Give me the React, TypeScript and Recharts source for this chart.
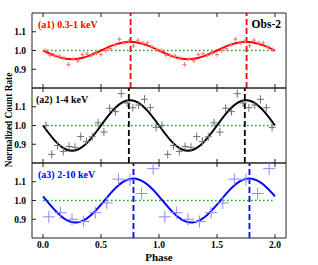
import React from 'react';
import { ComposedChart, Line, Scatter, XAxis, YAxis, ReferenceLine } from 'recharts';

// folded light curves, two cycles shown
const phase1 = [
  0.02, 0.06, 0.1, 0.14, 0.18, 0.22, 0.26, 0.3, 0.34, 0.38, 0.42, 0.46, 0.5, 0.54, 0.58, 0.62, 0.66, 0.7, 0.74, 0.78, 0.82, 0.86, 0.9, 0.94, 0.98,
  1.02, 1.06, 1.1, 1.14, 1.18, 1.22, 1.26, 1.3, 1.34, 1.38, 1.42, 1.46, 1.5, 1.54, 1.58, 1.62, 1.66, 1.7, 1.74, 1.78, 1.82, 1.86, 1.9, 1.94, 1.98,
];
const rate1 = [
  1.0, 0.975, 0.972, 0.97, 0.96, 0.925, 0.955, 0.945, 0.978, 0.982, 0.975, 0.985, 0.978, 1.0, 1.01, 1.03, 1.06, 1.04, 1.05, 1.025, 1.055, 1.04, 1.04, 1.02, 1.005,
  1.0, 0.975, 0.972, 0.97, 0.96, 0.925, 0.955, 0.945, 0.978, 0.982, 0.975, 0.985, 0.978, 1.0, 1.01, 1.03, 1.06, 1.04, 1.05, 1.025, 1.055, 1.04, 1.04, 1.02, 1.005,
];

const phase2 = [
  0.025, 0.075, 0.125, 0.175, 0.225, 0.275, 0.325, 0.375, 0.425, 0.475, 0.525, 0.575, 0.625, 0.675, 0.725, 0.775, 0.825, 0.875, 0.925, 0.975,
  1.025, 1.075, 1.125, 1.175, 1.225, 1.275, 1.325, 1.375, 1.425, 1.475, 1.525, 1.575, 1.625, 1.675, 1.725, 1.775, 1.825, 1.875, 1.925, 1.975,
];
const rate2 = [
  1.0, 0.846, 0.893, 0.862, 0.888, 0.884, 0.941, 0.915, 0.94, 1.014, 0.965, 1.092, 1.074, 1.17, 1.12, 1.095, 1.109, 1.14, 1.095, 0.99,
  1.0, 0.846, 0.893, 0.862, 0.888, 0.884, 0.941, 0.915, 0.94, 1.014, 0.965, 1.092, 1.074, 1.17, 1.12, 1.095, 1.109, 1.14, 1.095, 0.99,
];

const phase3 = [0.05, 0.15, 0.25, 0.35, 0.45, 0.55, 0.65, 0.75, 0.85, 0.95, 1.05, 1.15, 1.25, 1.35, 1.45, 1.55, 1.65, 1.75, 1.85, 1.95];
const rate3 = [
  0.913, 0.935, 0.9, 0.888, 0.935, 0.987, 1.114, 1.11, 1.037, 1.17,
  0.913, 0.935, 0.9, 0.888, 0.935, 0.987, 1.114, 1.11, 1.037, 1.17,
];

// sinusoid model curves
const modelPhase = [0, 0.1, 0.2, 0.3, 0.4, 0.5, 0.6, 0.7, 0.8, 0.9, 1.0, 1.1, 1.2, 1.3, 1.4, 1.5, 1.6, 1.7, 1.8, 1.9, 2.0];
const model1 = [1.0, 0.973, 0.956, 0.956, 0.973, 1.0, 1.027, 1.044, 1.044, 1.027, 1.0, 0.973, 0.956, 0.956, 0.973, 1.0, 1.027, 1.044, 1.044, 1.027, 1.0];
const model2 = [1.0, 0.921, 0.872, 0.872, 0.921, 1.0, 1.079, 1.128, 1.128, 1.079, 1.0, 0.921, 0.872, 0.872, 0.921, 1.0, 1.079, 1.128, 1.128, 1.079, 1.0];
const model3 = [1.022, 0.95, 0.897, 0.884, 0.915, 0.978, 1.05, 1.103, 1.116, 1.085, 1.022, 0.95, 0.897, 0.884, 0.915, 0.978, 1.05, 1.103, 1.116, 1.085, 1.022];

const peaks1 = [0.755, 1.755];
const peaks2 = [0.74, 1.74];
const peaks3 = [0.78, 1.78];

const xTicks = [0, 0.5, 1, 1.5, 2];
const yTicks = [0.9, 1.0, 1.1];

const toPoints = (xs: number[], ys: number[]) => xs.map((p, i) => ({ phase: p, rate: ys[i] }));

const FONT = "'Liberation Serif', 'Times New Roman', serif";
const W = 318;
const H = 265;

const crossShape = (w: number, h: number, color: string) => (props: any) => {
  const { cx, cy } = props;
  if (cx == null || cy == null) return <g />;
  return (
    <path
      d={`M${cx - w},${cy}H${cx + w}M${cx},${cy - h}V${cy + h}`}
      stroke={color}
      strokeWidth={1}
      fill="none"
    />
  );
};

interface PanelProps {
  top: number;
  bottom: number;
  points: { phase: number; rate: number }[];
  model: { phase: number; rate: number }[];
  peaks: number[];
  lineColor: string;
  pointColor: string;
  crossW: number;
  crossH: number;
  showXLabels: boolean;
}

function Panel({ top, bottom, points, model, peaks, lineColor, pointColor, crossW, crossH, showXLabels }: PanelProps) {
  const tickStyle = { fill: '#000', fontSize: 9.5, fontWeight: 700, fontFamily: FONT, style: { fontFamily: FONT } };
  return (
    <div style={{ position: 'absolute', left: 0, top: 0 }}>
      <ComposedChart width={W} height={H} margin={{ top: top - 1, bottom: H - bottom - 1, left: 2, right: 31 }}>
        <XAxis
          dataKey="phase"
          type="number"
          domain={[-0.095, 2.095]}
          ticks={xTicks}
          allowDataOverflow
          height={1}
          tickSize={-4}
          tickMargin={7}
          stroke="#222"
          tick={tickStyle}
          tickFormatter={(v: number) => (showXLabels ? v.toFixed(1) : '')}
        />
        <XAxis
          xAxisId="top"
          dataKey="phase"
          orientation="top"
          type="number"
          domain={[-0.095, 2.095]}
          ticks={xTicks}
          allowDataOverflow
          height={1}
          tickSize={-4}
          stroke="#222"
          tickFormatter={() => ''}
        />
        <YAxis
          yAxisId="L"
          dataKey="rate"
          type="number"
          domain={[0.8, 1.2]}
          ticks={yTicks}
          allowDataOverflow
          width={30}
          tickSize={-4}
          tickMargin={10}
          stroke="#222"
          tick={tickStyle}
          tickFormatter={(v: number) => v.toFixed(1)}
        />
        <YAxis
          yAxisId="R"
          orientation="right"
          type="number"
          domain={[0.8, 1.2]}
          width={1}
          tickLine={false}
          tickFormatter={() => ''}
          stroke="#222"
        />
        <ReferenceLine
          yAxisId="L"
          segment={[{ x: 0, y: 1 }, { x: 2, y: 1 }]}
          stroke="#2f9e2f"
          strokeWidth={1.6}
          strokeDasharray="1.6 2.4"
        />
        <Scatter
          yAxisId="L"
          data={points}
          dataKey="rate"
          shape={crossShape(crossW, crossH, pointColor)}
          isAnimationActive={false}
        />
        <Line
          yAxisId="L"
          data={model}
          dataKey="rate"
          type="natural"
          stroke={lineColor}
          strokeWidth={2}
          dot={false}
          activeDot={false}
          isAnimationActive={false}
        />
        {peaks.map((p) => (
          <ReferenceLine
            key={p}
            yAxisId="L"
            x={p}
            stroke={lineColor}
            strokeWidth={1.8}
            strokeDasharray="6 3"
          />
        ))}
      </ComposedChart>
    </div>
  );
}

export default function App() {
  return (
    <div style={{ position: 'fixed', left: 0, top: 0, width: W, height: H, background: '#fff', overflow: 'hidden' }}>
      <Panel
        top={13}
        bottom={88}
        points={toPoints(phase1, rate1)}
        model={toPoints(modelPhase, model1)}
        peaks={peaks1}
        lineColor="#ff0000"
        pointColor="#ff7070"
        crossW={2}
        crossH={2.2}
        showXLabels={false}
      />
      <Panel
        top={88}
        bottom={163}
        points={toPoints(phase2, rate2)}
        model={toPoints(modelPhase, model2)}
        peaks={peaks2}
        lineColor="#000000"
        pointColor="#707070"
        crossW={3.5}
        crossH={4}
        showXLabels={false}
      />
      <Panel
        top={163}
        bottom={238}
        points={toPoints(phase3, rate3)}
        model={toPoints(modelPhase, model3)}
        peaks={peaks3}
        lineColor="#0000ff"
        pointColor="#8a8aff"
        crossW={6}
        crossH={6}
        showXLabels={true}
      />
      <svg width={W} height={H} style={{ position: 'absolute', left: 0, top: 0, pointerEvents: 'none' }}>
        <g style={{ fontFamily: FONT, fontWeight: 700 }}>
          <text x={38} y={27.5} fontSize={10} fill="#ff0000">(a1) 0.3-1 keV</text>
          <text x={281} y={27.5} fontSize={11.5} fill="#000" textAnchor="end">Obs-2</text>
          <text x={36} y={103} fontSize={10} fill="#000">(a2) 1-4 keV</text>
          <text x={38} y={178} fontSize={10} fill="#0000ff">(a3) 2-10 keV</text>
          <text x={159} y={260.5} fontSize={11} fill="#000" textAnchor="middle">Phase</text>
          <text
            x={0}
            y={0}
            fontSize={9.3}
            fill="#000"
            textAnchor="middle"
            transform="translate(11.5,120) rotate(-90)"
          >
            Normalized Count Rate
          </text>
        </g>
      </svg>
    </div>
  );
}
